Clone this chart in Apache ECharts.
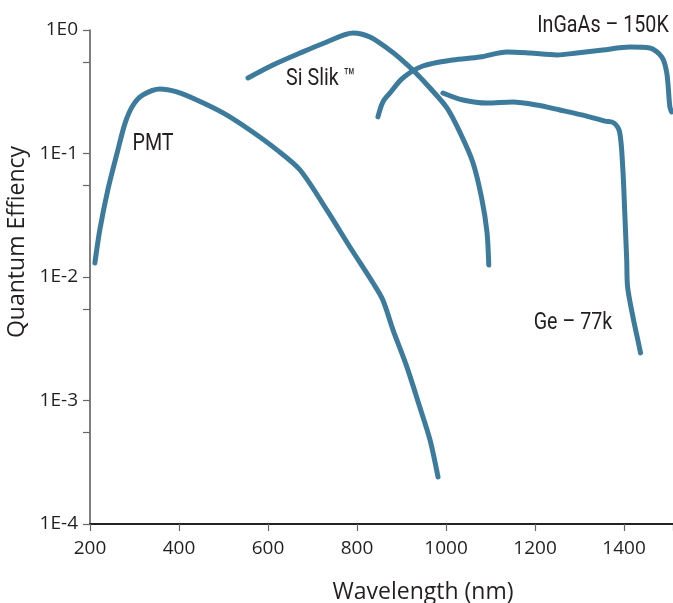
<!DOCTYPE html>
<html>
<head>
<meta charset="utf-8">
<title>Quantum Efficiency vs Wavelength</title>
<script src="https://cdn.jsdelivr.net/npm/echarts@6/dist/echarts.min.js"></script>
<style>
  html, body { margin: 0; padding: 0; background: #ffffff; }
  #chart { width: 673px; height: 603px; }
</style>
</head>
<body>
<div id="chart"></div>
<script>
// Detector response curves: wavelength (nm) and quantum efficiency (fraction)
const pmtWavelength = [211, 222, 240, 261, 279, 297, 319, 357, 395, 440, 499, 559, 620, 672, 732, 784, 836, 858, 881, 912, 941, 964, 982];
const pmtQE = [0.0130, 0.0240, 0.0506, 0.101, 0.177, 0.247, 0.298, 0.333, 0.315, 0.271, 0.213, 0.155, 0.107, 0.0735, 0.0349, 0.0175, 0.00894, 0.00651, 0.00372, 0.00187, 0.000885, 0.000479, 0.000240];

const siWavelength = [555, 611, 672, 732, 791, 829, 867, 896, 930, 964, 1002, 1031, 1060, 1080, 1092, 1096];
const siQE = [0.409, 0.521, 0.651, 0.800, 0.946, 0.878, 0.715, 0.593, 0.457, 0.339, 0.234, 0.149, 0.0853, 0.0436, 0.0231, 0.0125];

const ingaasWavelength = [847, 858, 874, 903, 948, 1015, 1076, 1137, 1188, 1249, 1294, 1352, 1413, 1458, 1485, 1496, 1503, 1507];
const ingaasQE = [0.198, 0.261, 0.309, 0.409, 0.511, 0.571, 0.604, 0.664, 0.651, 0.628, 0.651, 0.689, 0.728, 0.715, 0.604, 0.449, 0.238, 0.217];

const geWavelength = [993, 1038, 1092, 1150, 1204, 1256, 1316, 1357, 1377, 1390, 1397, 1402, 1406, 1408, 1420, 1431, 1437];
const geQE = [0.309, 0.271, 0.256, 0.261, 0.247, 0.225, 0.201, 0.183, 0.177, 0.149, 0.0778, 0.0306, 0.0137, 0.00830, 0.00474, 0.00309, 0.00243];

const curveNames = ['PMT', 'Si Slik ™', 'InGaAs – 150K', 'Ge – 77k'];
const xTickLabels = ['200', '400', '600', '800', '1000', '1200', '1400'];
const yTickLabels = ['1E0', '1E-1', '1E-2', '1E-3', '1E-4'];

const LINE_COLOR = '#3d7b9c';
const TEXT_COLOR = '#231f20';
const tickFont = "'Open Sans', 'Noto Sans', sans-serif";
const noteFont = "Roboto, 'Open Sans', sans-serif";

function pairs(xs, ys) {
  return xs.map((x, i) => [x, ys[i]]);
}

function curve(name, xs, ys) {
  return {
    name: name,
    type: 'line',
    data: pairs(xs, ys),
    smooth: 0.3,
    showSymbol: false,
    symbol: 'none',
    clip: false,
    lineStyle: { color: LINE_COLOR, width: 5, cap: 'round', join: 'round' },
    emphasis: { disabled: true },
    z: 3
  };
}

// Curve captions, drawn in a narrowed sans face
function caption(text, x, y) {
  return {
    type: 'text',
    x: x,
    y: y,
    scaleX: 0.82,
    style: {
      text: text,
      font: '24px ' + noteFont,
      fill: TEXT_COLOR,
      textAlign: 'center',
      textVerticalAlign: 'middle'
    },
    z: 10
  };
}

const chart = echarts.init(document.getElementById('chart'), null, { renderer: 'canvas' });

const yLabelByExp = {};
yTickLabels.forEach((t, i) => { yLabelByExp[-i] = t; });

chart.setOption({
  animation: false,
  backgroundColor: '#ffffff',
  grid: { left: 90, right: 0, top: 30, bottom: 79, containLabel: false, outerBoundsMode: 'none' },
  xAxis: {
    type: 'value',
    min: 200,
    max: 1510,
    interval: 200,
    name: 'Wavelength (nm)',
    nameLocation: 'middle',
    nameGap: 57,
    nameTextStyle: { fontFamily: tickFont, fontSize: 23, color: TEXT_COLOR, padding: [0, 0, 0, 83] },
    axisLine: { show: true, onZero: false, lineStyle: { color: '#222222', width: 2 } },
    axisTick: { show: true, length: 7, lineStyle: { color: '#666666', width: 1.2 } },
    axisLabel: {
      margin: 15,
      fontFamily: tickFont,
      fontSize: 19,
      color: TEXT_COLOR,
      formatter: function (v) {
        const s = String(v);
        return xTickLabels.indexOf(s) >= 0 ? s : '';
      }
    },
    splitLine: { show: false }
  },
  yAxis: {
    type: 'log',
    logBase: 10,
    min: 1e-4,
    max: 1,
    name: 'Quantum Effiency',
    nameLocation: 'middle',
    nameGap: 56,
    nameRotate: 90,
    nameTextStyle: { fontFamily: tickFont, fontSize: 23, color: TEXT_COLOR, padding: [0, 0, 0, 70] },
    axisLine: { show: true, lineStyle: { color: '#555555', width: 1.5 } },
    axisTick: { show: true, length: 7, lineStyle: { color: '#666666', width: 1.2 } },
    minorTick: { show: true, splitNumber: 2, length: 7, lineStyle: { color: '#666666', width: 1.2 } },
    axisLabel: {
      margin: 12,
      fontFamily: tickFont,
      fontSize: 19,
      color: TEXT_COLOR,
      formatter: function (v) {
        const e = Math.round(Math.log10(v));
        return yLabelByExp[e] !== undefined ? yLabelByExp[e] : '';
      }
    },
    splitLine: { show: false },
    minorSplitLine: { show: false }
  },
  series: [
    curve(curveNames[0], pmtWavelength, pmtQE),
    curve(curveNames[1], siWavelength, siQE),
    curve(curveNames[2], ingaasWavelength, ingaasQE),
    curve(curveNames[3], geWavelength, geQE)
  ],
  graphic: [
    caption(curveNames[0], 153, 144),
    caption(curveNames[1], 321, 79),
    caption(curveNames[2], 603, 26),
    caption(curveNames[3], 573, 323)
  ]
});
</script>
</body>
</html>
